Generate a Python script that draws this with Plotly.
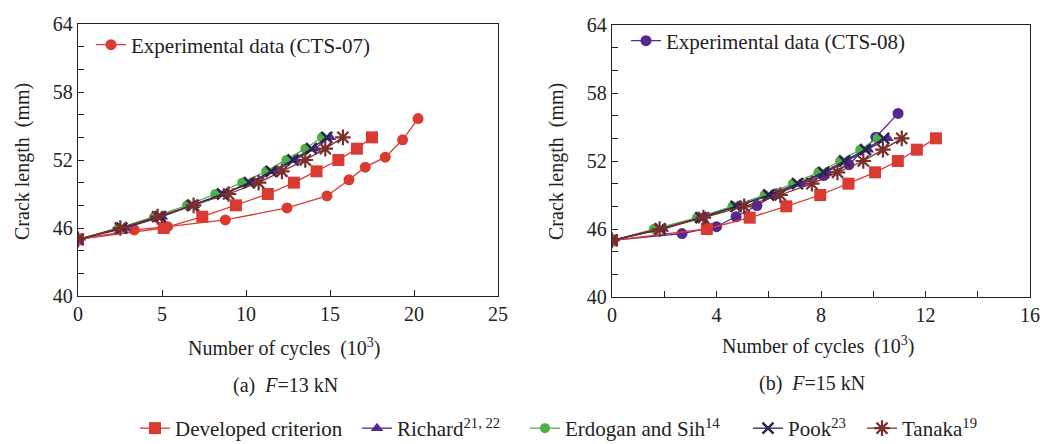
import plotly.graph_objects as go

W, H = 1045, 444

# ---------------- Data: (a) F = 13 kN ----------------
a_exp_x = [0, 3.35, 5.33, 8.77, 12.44, 14.82, 16.13, 17.1, 18.29, 19.32, 20.24]
a_exp_y = [45, 45.83, 46.12, 46.71, 47.77, 48.83, 50.25, 51.37, 52.25, 53.78, 55.66]

crack_y = [45, 46, 47, 48, 49, 50, 51, 52, 53, 54]
a_dev_x = [0, 5.1, 7.4, 9.4, 11.3, 12.85, 14.2, 15.5, 16.6, 17.5]
a_erd_x = [0, 2.4, 4.54, 6.49, 8.17, 9.76, 11.2, 12.4, 13.53, 14.52]
a_ric_x = [0, 2.8, 5.0, 6.9, 8.7, 10.3, 11.7, 12.9, 14.1, 15.0]
a_pook_x = [0, 2.6, 4.9, 6.8, 8.6, 10.2, 11.5, 12.8, 13.9, 14.8]
a_tan_x = [0, 2.52, 4.74, 6.88, 8.96, 10.75, 12.14, 13.53, 14.72, 15.77]

# ---------------- Data: (b) F = 15 kN ----------------
b_exp_x = [0, 2.68, 4.0, 4.75, 5.55, 6.3, 8.1, 9.07, 10.1, 10.95]
b_exp_y = [45, 45.6, 46.2, 47.08, 48.07, 49.1, 50.72, 51.68, 54.1, 56.2]

b_dev_x = [0, 3.63, 5.27, 6.67, 7.97, 9.05, 10.07, 10.94, 11.67, 12.4]
b_erd_x = [0, 1.6, 3.25, 4.61, 5.84, 6.92, 7.9, 8.73, 9.5, 10.17]
b_ric_x = [0, 1.95, 3.45, 4.8, 6.1, 7.2, 8.2, 9.0, 9.8, 10.55]
b_pook_x = [0, 1.85, 3.4, 4.75, 6.0, 7.1, 8.1, 8.9, 9.7, 10.4]
b_tan_x = [0, 1.82, 3.5, 5.06, 6.44, 7.65, 8.63, 9.62, 10.37, 11.09]

names = ["Developed criterion", "Richard<sup>21, 22</sup>", "Erdogan and Sih<sup>14</sup>",
         "Pook<sup>23</sup>", "Tanaka<sup>19</sup>"]

RED = "#d93a32"
PURPLE = "#55278f"
GREEN = "#4fae48"
NAVY = "#2a2550"
BROWN = "#7a2f2c"
FONT = "Liberation Serif"

fig = go.Figure()

def add_panel(xa, ya, exp_x, exp_y, exp_name, exp_color, exp_legend,
              dev_x, erd_x, ric_x, pook_x, tan_x, show):
    common = dict(xaxis=xa, yaxis=ya, mode="lines+markers")
    fig.add_trace(go.Scatter(x=exp_x, y=exp_y, name=exp_name, legend=exp_legend,
                             showlegend=True,
                             line=dict(color=exp_color, width=1.3),
                             marker=dict(symbol="circle", size=11, color=exp_color),
                             **common))
    series = [
        (dev_x, names[0], RED, dict(symbol="square", size=12, color=RED), "legend3"),
        (erd_x, names[2], GREEN, dict(symbol="circle", size=10, color=GREEN), "legend5"),
        (ric_x, names[1], PURPLE, dict(symbol="triangle-up", size=11, color=PURPLE), "legend4"),
        (pook_x, names[3], NAVY, dict(symbol="x-thin", size=11, line=dict(color=NAVY, width=2.5)), "legend6"),
        (tan_x, names[4], BROWN, dict(symbol="asterisk", size=13, line=dict(color=BROWN, width=2.2)), "legend7"),
    ]
    for xs, nm, col, mk, lg in series:
        fig.add_trace(go.Scatter(x=xs, y=crack_y, name=nm, legend=lg, showlegend=show,
                                 line=dict(color=col, width=1.3), marker=mk, **common))

add_panel("x", "y", a_exp_x, a_exp_y, "Experimental data (CTS-07)", RED, "legend",
          a_dev_x, a_erd_x, a_ric_x, a_pook_x, a_tan_x, True)
add_panel("x2", "y2", b_exp_x, b_exp_y, "Experimental data (CTS-08)", PURPLE, "legend2",
          b_dev_x, b_erd_x, b_ric_x, b_pook_x, b_tan_x, False)

def px_x(p):
    return p / W

def px_y(p):
    return 1 - p / H

axis_common = dict(showline=True, linecolor="#222", linewidth=1.3, mirror=True,
                   ticks="inside", ticklen=6, tickcolor="#222", showgrid=False, zeroline=False,
                   automargin=False,
                   tickfont=dict(family=FONT, size=20, color="#222"))
minor = dict(dtick=2, ticks="inside", ticklen=6, tickcolor="#222")

fig.update_layout(
    width=W, height=H,
    margin=dict(l=0, r=0, t=0, b=0, autoexpand=False),
    paper_bgcolor="white", plot_bgcolor="white",
    showlegend=True,
    font=dict(family=FONT, size=18, color="#222"),
    xaxis=dict(domain=[px_x(78), px_x(498)], range=[0, 25], tick0=0, dtick=5, anchor="y", **axis_common),
    yaxis=dict(domain=[px_y(296), px_y(24)], range=[40, 64], tick0=40, dtick=6, anchor="x",
               minor=dict(tick0=40, **minor), **axis_common),
    xaxis2=dict(domain=[px_x(612), px_x(1030)], range=[0, 16], tick0=0, dtick=4, anchor="y2",
                minor=dict(tick0=0, **minor), **axis_common),
    yaxis2=dict(domain=[px_y(297), px_y(25)], range=[40, 64], tick0=40, dtick=6, anchor="x2",
                minor=dict(tick0=40, **minor), **axis_common),
)

leg_common = dict(bgcolor="rgba(0,0,0,0)", font=dict(family=FONT, size=21, color="#222"),
                  xanchor="left", tracegroupgap=0)
bottom_y = px_y(449)
fig.update_layout(
    legend=dict(x=px_x(91), y=px_y(45), yanchor="middle", **leg_common),
    legend2=dict(x=px_x(626), y=px_y(41), yanchor="middle", **leg_common),
    legend3=dict(x=px_x(135), y=bottom_y, yanchor="bottom", **leg_common),
    legend4=dict(x=px_x(357), y=bottom_y, yanchor="bottom", **leg_common),
    legend5=dict(x=px_x(525), y=bottom_y, yanchor="bottom", **leg_common),
    legend6=dict(x=px_x(748), y=bottom_y, yanchor="bottom", **leg_common),
    legend7=dict(x=px_x(862), y=bottom_y, yanchor="bottom", **leg_common),
)

annots = [
    dict(text="Number of cycles  (10<sup>3</sup>)", x=px_x(284), y=px_y(347)),
    dict(text="Number of cycles  (10<sup>3</sup>)", x=px_x(818), y=px_y(345)),
    dict(text="(a)  <i>F</i>=13 kN", x=px_x(285), y=px_y(385)),
    dict(text="(b)  <i>F</i>=15 kN", x=px_x(812), y=px_y(383)),
    dict(text="Crack length  (mm)", x=px_x(22), y=px_y(162), textangle=-90),
    dict(text="Crack length  (mm)", x=px_x(556), y=px_y(162), textangle=-90),
]
for a in annots:
    fig.add_annotation(xref="paper", yref="paper", showarrow=False,
                       xanchor="center", yanchor="middle",
                       font=dict(family=FONT, size=20, color="#222"), **a)

fig.write_html("out.html")
